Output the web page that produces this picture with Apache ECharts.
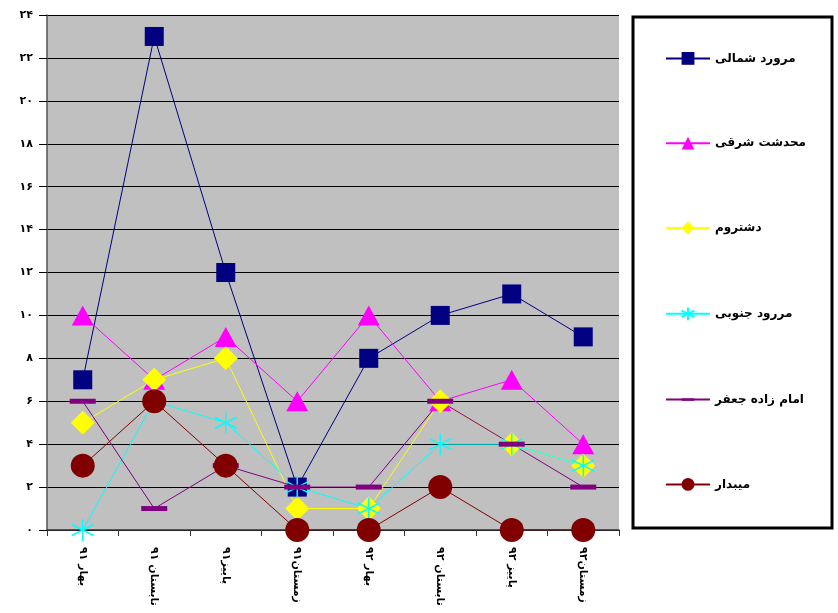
<!DOCTYPE html>
<html><head><meta charset="utf-8">
<script src="https://cdn.jsdelivr.net/npm/echarts@6/dist/echarts.min.js"></script>
<style>html,body{margin:0;padding:0;background:#fff}#c{width:838px;height:613px}</style>
</head><body><div id="c"></div>
<script>
const categories = ['بهار ۹۱','تابستان ۹۱','پاییز۹۱','زمستان۹۱','بهار ۹۲','تابستان ۹۲','پاییز ۹۲','زمستان۹۲'];
const seriesNames = ['مرورد شمالی','محدشت شرقی','دشتروم','مررود جنوبی','امام زاده جعفر','میبدار'];
const marvdShomali = [7, 23, 12, 2, 8, 10, 11, 9];
const mohdashtShargi = [10, 7, 9, 6, 10, 6, 7, 4];
const dashtroom = [5, 7, 8, 1, 1, 6, 4, 3];
const marroodJonoobi = [0, 6, 5, 2, 1, 4, 4, 3];
const emamzadeh = [6, 1, 3, 2, 2, 6, 4, 2];
const meybodar = [3, 6, 3, 0, 0, 2, 0, 0];
const yTicks = [0,2,4,6,8,10,12,14,16,18,20,22,24];

const fa = n => String(n).replace(/\d/g, d => '۰۱۲۳۴۵۶۷۸۹'[d]);
const FONT = 'DejaVu Sans';
const asterisk = 'path://M0,-10L0,10M-8.7,-5L8.7,5M-8.7,5L8.7,-5';
const dash = 'path://M0,0L0,0M0,10.5L26,10.5L26,15.5L0,15.5ZM26,26L26,26';

const styles = [
  {color:'#000080', symbol:'rect', size:19},
  {color:'#ff00ff', symbol:'triangle', size:[22,20]},
  {color:'#ffff00', symbol:'diamond', size:24},
  {color:'#00ffff', symbol:asterisk, size:22, stroke:true},
  {color:'#800080', symbol:dash, size:26},
  {color:'#800000', symbol:'circle', size:24}
];
const datas = [marvdShomali, mohdashtShargi, dashtroom, marroodJonoobi, emamzadeh, meybodar];

const chart = echarts.init(document.getElementById('c'));
chart.setOption({
  animation:false,
  backgroundColor:'#ffffff',
  textStyle:{fontFamily:FONT},
  grid:{left:47, right:219, top:15, bottom:83, show:true, backgroundColor:'#c0c0c0', borderWidth:0},
  graphic:[{type:'rect', shape:{x:633, y:17, width:199, height:511}, style:{fill:'#ffffff', stroke:'#000', lineWidth:3}, z:-1}],
  legend:{
    orient:'vertical', left:660, top:47, itemGap:72, itemWidth:44, itemHeight:16,
    textStyle:{fontFamily:FONT, fontSize:12, fontWeight:'bold', color:'#000'},
    data: seriesNames
  },
  xAxis:{
    type:'category', data:categories, boundaryGap:true,
    axisLine:{lineStyle:{color:'#333', width:1.5}},
    axisTick:{show:true, length:6, lineStyle:{color:'#333'}},
    axisLabel:{rotate:-90, fontFamily:FONT, fontSize:11, fontWeight:'bold', color:'#000', margin:17}
  },
  yAxis:{
    type:'value', min:0, max:24, interval:2,
    axisLine:{show:true, lineStyle:{color:'#555', width:1.5}},
    axisTick:{show:true, length:8, lineStyle:{color:'#000'}},
    splitLine:{lineStyle:{color:'#000', width:1}},
    axisLabel:{formatter:v=>fa(v), fontFamily:FONT, fontSize:11, fontWeight:'bold', color:'#000', margin:14}
  },
  series: seriesNames.map((n,i)=>({
    name:n, type:'line', data:datas[i],
    symbol:styles[i].symbol, symbolSize:styles[i].size,
    lineStyle:{color:styles[i].color, width:1},
    itemStyle: styles[i].stroke ? {color:styles[i].color, borderColor:styles[i].color, borderWidth:1.5} : {color:styles[i].color, borderWidth:0},
    emphasis:{disabled:true}
  }))
});
</script></body></html>
